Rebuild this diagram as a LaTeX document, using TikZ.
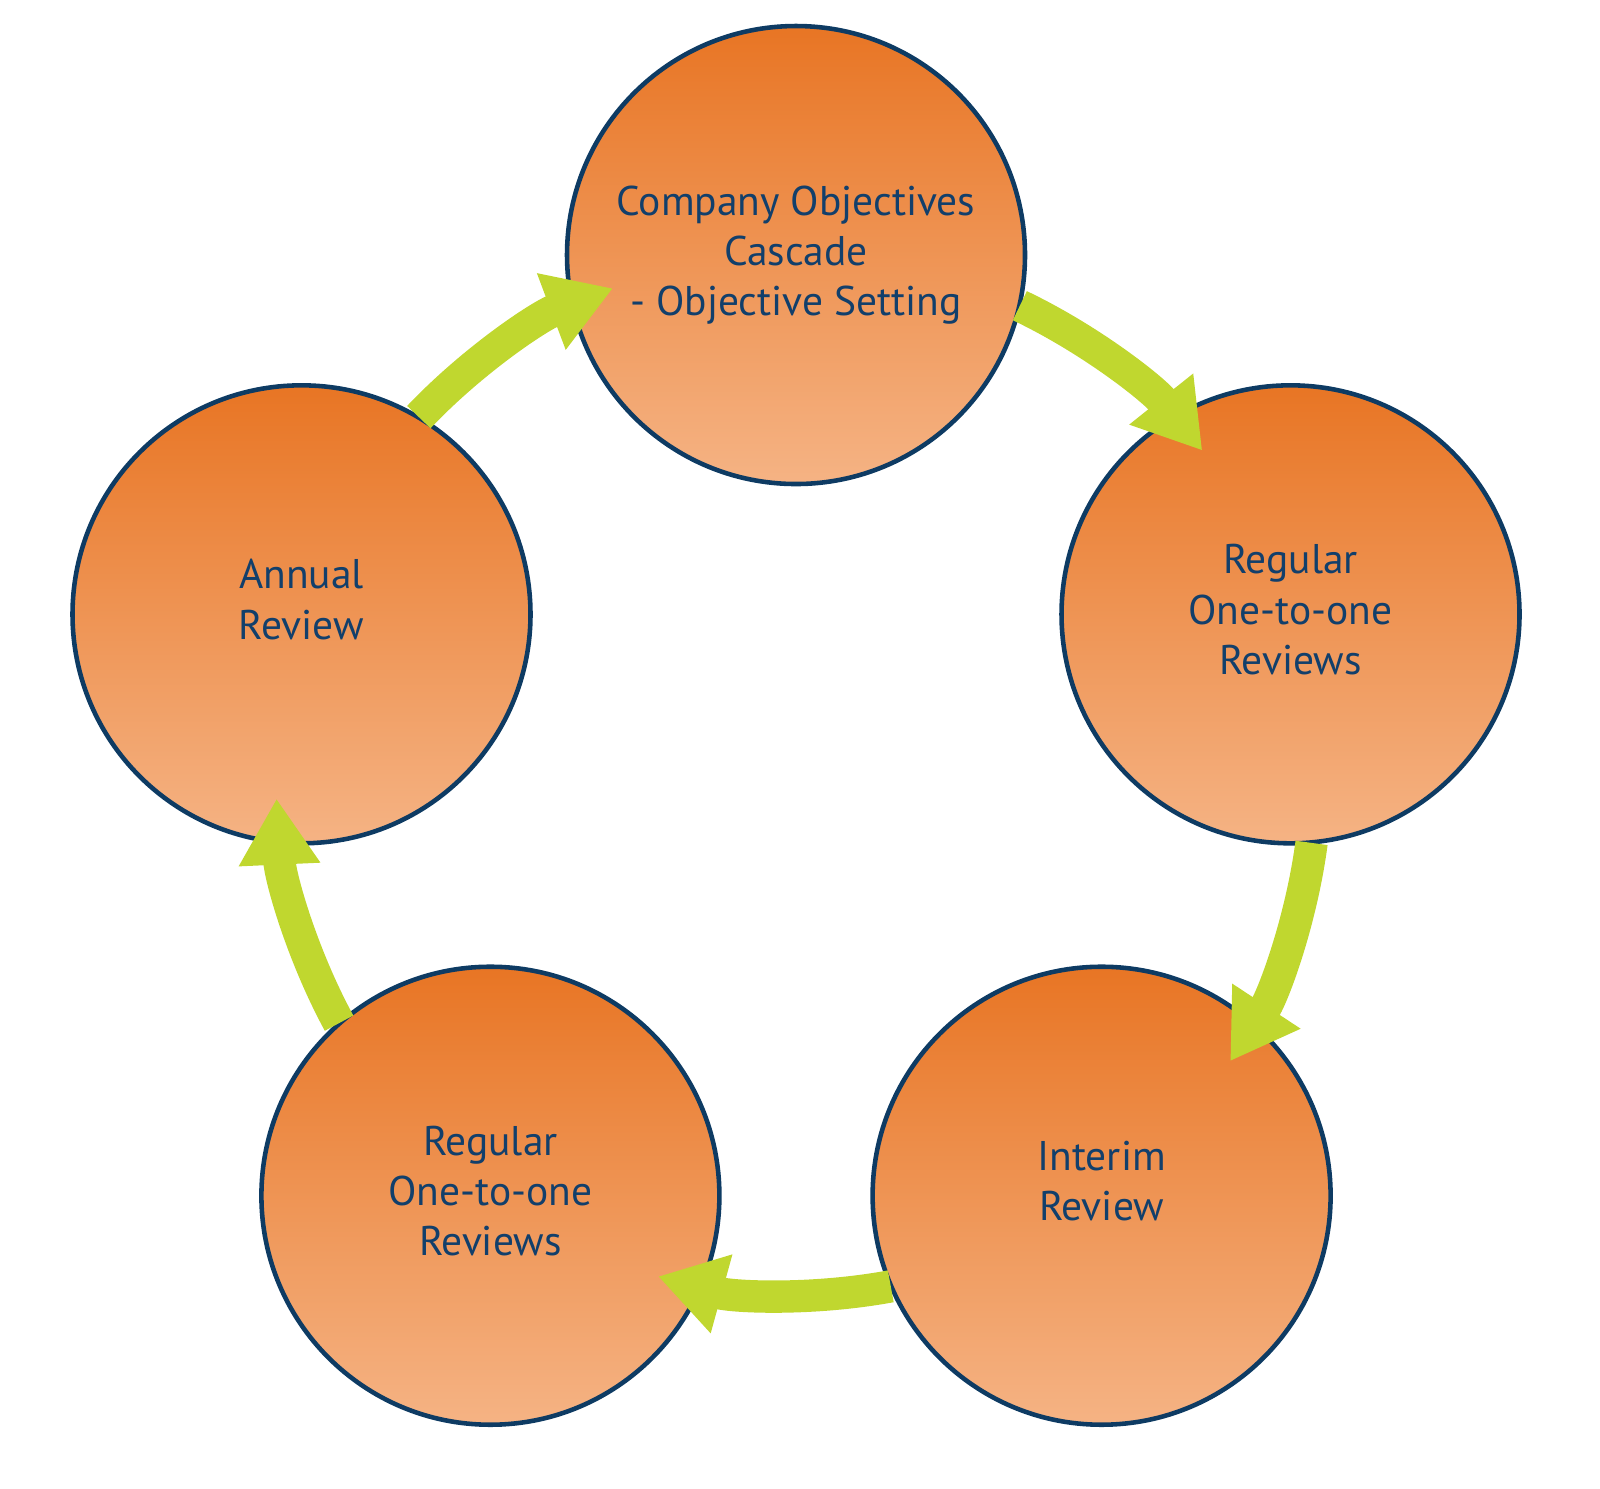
\documentclass[tikz,border=0pt]{standalone}
\usepackage{fontspec}
\setmainfont{PT Sans}
\usepackage{tikz}
\usetikzlibrary{positioning,arrows.meta}
\definecolor{navy}{HTML}{123F6B}
\definecolor{rim}{HTML}{0E3B63}
\definecolor{orangetop}{HTML}{E87524}
\definecolor{orangebot}{HTML}{F5B384}
\definecolor{lime}{HTML}{C0D72F}

\begin{document}
\begin{tikzpicture}[
  font=\fontsize{11.8}{14.3}\selectfont,
  stage/.style={circle, draw=rim, line width=1.3pt, minimum size=4.58cm, align=center,
    text=navy, top color=orangetop, bottom color=orangebot, inner sep=0pt},
  twoline/.style={text depth=3mm},
  threeline/.style={text depth=1mm},
  flow/.style={-{Triangle[length=6.6mm, width=7.7mm]}, line width=9.2pt, lime}
]
\useasboundingbox (0,0) rectangle (16,-14.88);
\coordinate (hub) at (7.96,-7.75);
% the five stages of the yearly cycle
\node[stage] (objectives) at (7.96,-2.55)   {Company Objectives\\Cascade\\- Objective Setting};
\node[stage, threeline] (regularA) at (12.905,-6.143) {Regular\\One-to-one\\Reviews};
\node[stage, twoline]   (interim)  at (11.016,-11.957) {Interim\\Review};
\node[stage, threeline] (regularB) at (4.904,-11.957) {Regular\\One-to-one\\Reviews};
\node[stage, twoline]   (annual)   at (3.015,-6.143)  {Annual\\Review};

% clockwise arrows round the hub, from one stage to the next
\foreach \s/\e in {64.5/38.6, -7.5/-33.4, -79.5/-105.4, -151.5/-177.4, 136.5/110.6}
  \draw[flow] ([shift={(\s:5.2)}]hub) arc[start angle=\s, end angle=\e, radius=5.2];
\end{tikzpicture}
\end{document}
